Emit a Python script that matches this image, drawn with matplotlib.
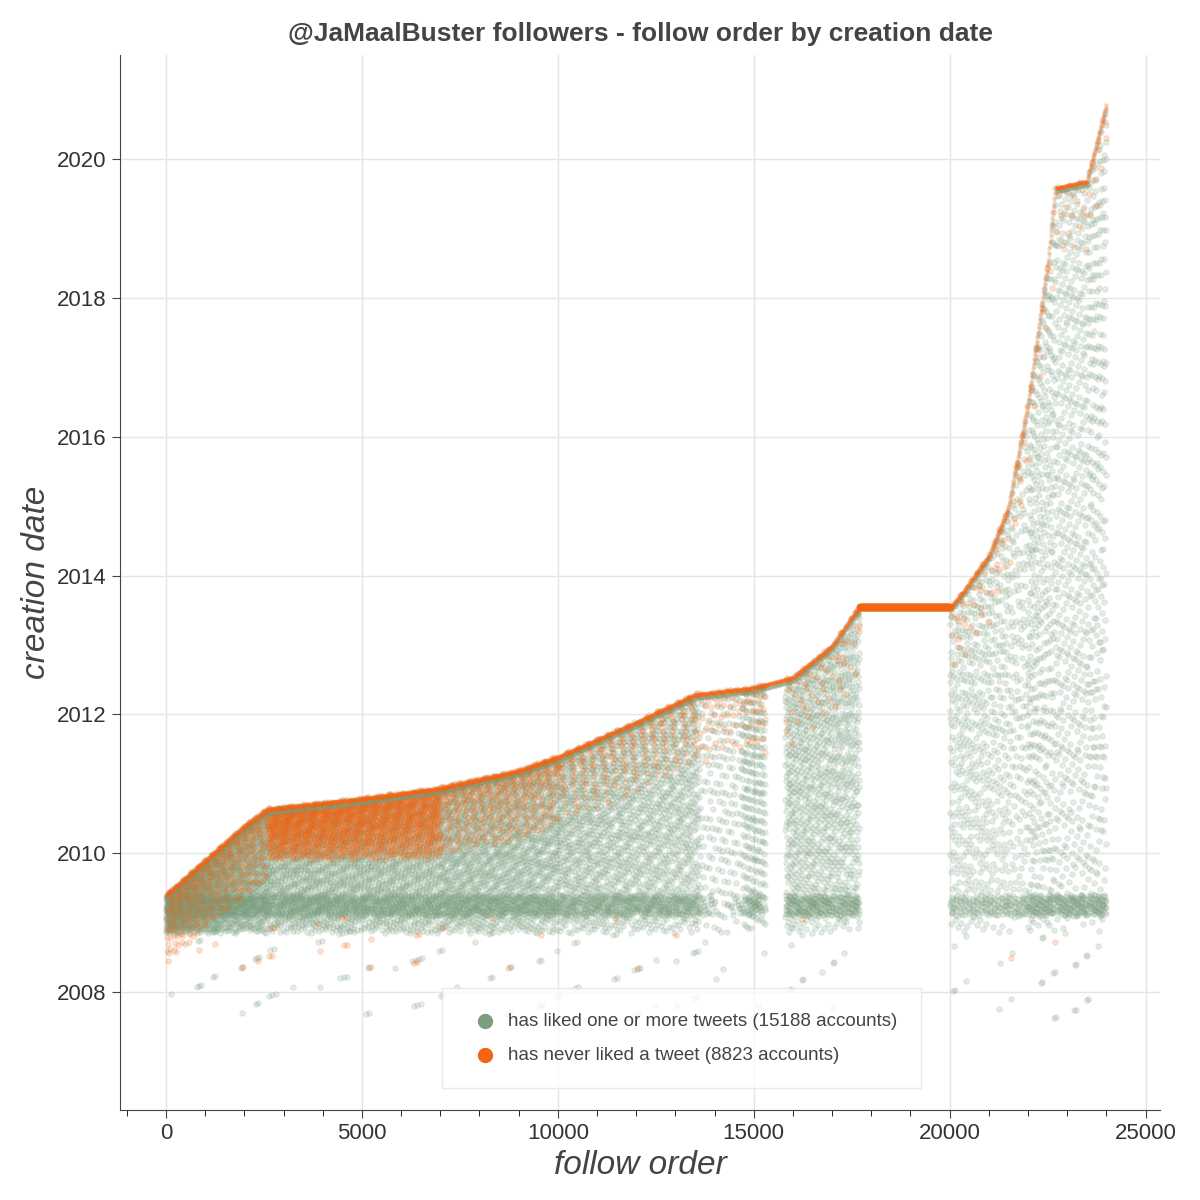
import numpy as np
import matplotlib
matplotlib.use("Agg")
import matplotlib.pyplot as plt

plt.rcParams['font.family'] = ['Liberation Sans', 'DejaVu Sans']

# Upper envelope of creation date vs follow order
env_x = [0, 1000, 2000, 2600, 5000, 7000, 9000, 10000, 12000, 13500, 15000, 16000, 17000, 17600, 17700, 20000, 20300, 21000, 21500, 22000, 22500, 22700, 23500, 24000]
env_y = [2009.4, 2009.9, 2010.4, 2010.65, 2010.8, 2010.95, 2011.2, 2011.4, 2011.9, 2012.3, 2012.4, 2012.55, 2013.0, 2013.5, 2013.55, 2013.55, 2013.75, 2014.3, 2015.0, 2016.5, 2018.5, 2019.6, 2019.7, 2020.8]
# Segments of follow order holding the point cloud, with point counts
seg_start = [0, 2600, 7000, 10000, 13600, 14700, 15800, 20000, 22000]
seg_end = [2600, 7000, 10000, 13600, 14700, 15300, 17700, 22000, 24000]
seg_green = [2000, 2800, 2000, 2200, 220, 300, 1300, 900, 1600]
seg_orange = [400, 1600, 400, 250, 50, 35, 70, 70, 50]
flat_x = [17700, 20000]
flat_y = 2013.55
title = "@JaMaalBuster followers - follow order by creation date"
label_green = "has liked one or more tweets (15188 accounts)"
label_orange = "has never liked a tweet (8823 accounts)"

GREEN = "#7a9e7e"
ORANGE = "#f26513"

def seq(n, off):
    i = np.arange(1, n + 1) + off
    return (0.5 + i * 0.7548776662) % 1.0, (0.5 + i * 0.5698402910) % 1.0, (i * 0.41421356) % 1.0

fig = plt.figure(figsize=(12, 12), dpi=100)
ax = fig.add_axes([0.1, 0.075, 0.867, 0.879])

gx, gy, ox, oy = [], [], [], []
for k in range(len(seg_start)):
    u, v, w = seq(seg_green[k], 1000 * k)
    x = seg_start[k] + u * (seg_end[k] - seg_start[k])
    top = np.interp(x, env_x, env_y)
    base = 2009.25 + (v - 0.5) * 0.3
    lo = 2008.85
    y = np.where(w < 0.15, base, lo + (top - lo) * v ** 0.85)
    y = np.where(w > 0.99, 2007.6 + v * 1.3, y)
    gx.append(x); gy.append(y)
    u, v, w = seq(seg_orange[k], 500 + 1000 * k)
    x = seg_start[k] + u * (seg_end[k] - seg_start[k])
    top = np.interp(x, env_x, env_y)
    if k == 1:
        y = 2009.9 + (top - 2009.9) * v ** 0.7
    else:
        y = top - 1.0 * v ** 2
    y = np.where(w > 0.99, 2008.3 + v * 0.8, y)
    ox.append(x); oy.append(y)
gx = np.concatenate(gx); gy = np.concatenate(gy)
ox = np.concatenate(ox); oy = np.concatenate(oy)

ex = np.linspace(0, 24000, 1500)
ex = ex[(ex < 17700) | (ex > 20000)]
ey = np.interp(ex, env_x, env_y) - 0.02
fx = np.linspace(flat_x[0], flat_x[1], 400)

ax.scatter(gx, gy, s=16, color=GREEN, alpha=0.2, lw=0.6, edgecolors=GREEN)
ax.scatter(ox, oy, s=16, color=ORANGE, alpha=0.2, lw=0.6, edgecolors=ORANGE)
ax.scatter(ex, ey - 0.05, s=10, color=GREEN, alpha=0.2, lw=0)
ax.scatter(ex, ey, s=10, color=ORANGE, alpha=0.3, lw=0)
ax.scatter(fx, np.full_like(fx, flat_y), s=28, color=ORANGE, lw=0)

ax.scatter([], [], s=100, color=GREEN, label=label_green)
ax.scatter([], [], s=100, color=ORANGE, label=label_orange)

ax.set_xlim(-1175, 25380)
ax.set_ylim(2006.3, 2021.5)
ax.set_xticks([0, 5000, 10000, 15000, 20000, 25000])
ax.set_xticks(np.arange(-1000, 25001, 1000), minor=True)
ax.set_yticks([2008, 2010, 2012, 2014, 2016, 2018, 2020])
ax.grid(True, color="#e5e5e5", lw=1)
ax.set_axisbelow(True)
for s in ["top", "right"]:
    ax.spines[s].set_visible(False)
for s in ["left", "bottom"]:
    ax.spines[s].set_color("#444444")
ax.tick_params(labelsize=16, colors="#444444", labelcolor="#333333", length=6)
ax.tick_params(which="minor", length=4)
ax.set_xlabel("follow order", fontsize=24, style="italic", color="#444444")
ax.set_ylabel("creation date", fontsize=24, style="italic", color="#444444")
ax.set_title(title, fontsize=19, fontweight="bold", color="#444444", pad=10)
leg = ax.legend(loc="lower center", bbox_to_anchor=(0.54, 0.012), fontsize=13.5,
                frameon=True, borderpad=1.3, labelspacing=0.9, handletextpad=0.2,
                fancybox=False, edgecolor="#e5e5e5")
for t in leg.get_texts():
    t.set_color("#444444")
fig.savefig("out.png", dpi=100, facecolor="white")
